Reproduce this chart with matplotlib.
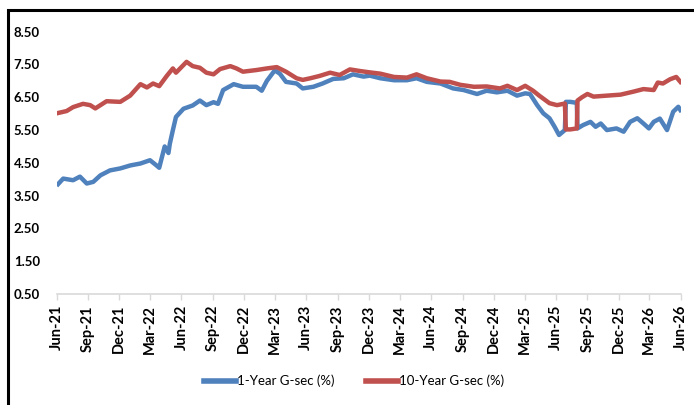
import matplotlib
matplotlib.use("Agg")
import matplotlib.pyplot as plt
from matplotlib.patches import Rectangle
import pandas as pd

# ---- data ----
dates_1y = ["2021-06-05", "2021-06-20", "2021-07-19", "2021-08-08", "2021-08-28", "2021-09-16",
            "2021-10-07", "2021-11-04", "2021-12-04", "2022-01-02", "2022-02-01", "2022-03-01",
            "2022-03-19", "2022-03-28", "2022-04-13", "2022-04-24", "2022-04-28", "2022-05-07",
            "2022-05-16", "2022-06-07", "2022-07-04", "2022-07-25", "2022-08-13", "2022-09-03",
            "2022-09-16", "2022-10-01", "2022-11-01", "2022-11-28", "2023-01-06", "2023-01-22",
            "2023-02-06", "2023-03-01", "2023-03-16", "2023-04-03", "2023-05-04", "2023-05-22",
            "2023-06-22", "2023-07-19", "2023-08-19", "2023-09-19", "2023-10-16", "2023-11-16",
            "2023-12-04", "2024-01-04", "2024-02-13", "2024-03-22", "2024-04-19", "2024-05-19",
            "2024-06-28", "2024-08-04", "2024-09-04", "2024-10-13", "2024-11-10", "2024-12-10",
            "2025-01-10", "2025-02-07", "2025-03-03", "2025-03-17", "2025-04-07", "2025-04-25",
            "2025-05-13", "2025-05-28", "2025-06-10", "2025-06-27", "2025-06-30", "2025-07-13",
            "2025-08-01", "2025-08-03", "2025-08-19", "2025-09-10", "2025-09-25", "2025-10-10",
            "2025-10-28", "2025-11-25", "2025-12-16", "2026-01-04", "2026-01-25", "2026-02-12",
            "2026-02-28", "2026-03-14", "2026-04-01", "2026-04-22", "2026-05-10", "2026-05-25",
            "2026-05-31"]
yield_1y = [3.85, 4.02, 3.97, 4.08, 3.87, 3.92,
            4.12, 4.27, 4.33, 4.42, 4.48, 4.58,
            4.43, 4.35, 5.00, 4.80, 5.08, 5.50,
            5.90, 6.15, 6.25, 6.40, 6.26, 6.35,
            6.30, 6.72, 6.90, 6.82, 6.82, 6.70,
            7.00, 7.32, 7.22, 6.97, 6.92, 6.77,
            6.82, 6.92, 7.06, 7.08, 7.20, 7.13,
            7.16, 7.08, 7.02, 7.02, 7.08, 6.97,
            6.92, 6.77, 6.72, 6.60, 6.70, 6.65,
            6.70, 6.55, 6.62, 6.60, 6.26, 6.01,
            5.86, 5.60, 5.35, 5.50, 6.36, 6.36,
            6.33, 5.55, 5.65, 5.75, 5.60, 5.70,
            5.50, 5.55, 5.45, 5.75, 5.86, 5.70,
            5.55, 5.75, 5.85, 5.50, 6.06, 6.21,
            6.11]

dates_10y = ["2021-06-05", "2021-06-30", "2021-07-19", "2021-08-17", "2021-09-07", "2021-09-22",
             "2021-10-25", "2021-12-04", "2022-01-02", "2022-02-01", "2022-02-20", "2022-03-10",
             "2022-03-28", "2022-04-19", "2022-05-07", "2022-05-16", "2022-06-16", "2022-07-04",
             "2022-07-25", "2022-08-13", "2022-09-03", "2022-09-22", "2022-10-22", "2022-11-09",
             "2022-11-28", "2023-01-06", "2023-02-06", "2023-03-07", "2023-04-03", "2023-05-04",
             "2023-05-22", "2023-06-13", "2023-07-10", "2023-08-10", "2023-09-07", "2023-10-07",
             "2023-11-06", "2023-12-04", "2024-01-04", "2024-02-13", "2024-03-22", "2024-04-19",
             "2024-05-19", "2024-06-28", "2024-07-25", "2024-08-25", "2024-10-04", "2024-11-10",
             "2024-12-19", "2025-01-10", "2025-02-07", "2025-03-03", "2025-03-26", "2025-04-13",
             "2025-05-13", "2025-06-04", "2025-06-27", "2025-06-30", "2025-07-13", "2025-08-01",
             "2025-08-03", "2025-08-16", "2025-09-01", "2025-09-19", "2025-10-28", "2025-12-07",
             "2026-01-13", "2026-02-12", "2026-03-14", "2026-03-26", "2026-04-10", "2026-05-01",
             "2026-05-19", "2026-05-31"]
yield_10y = [6.02, 6.08, 6.20, 6.30, 6.26, 6.16,
             6.38, 6.36, 6.55, 6.90, 6.80, 6.92,
             6.84, 7.15, 7.38, 7.25, 7.58, 7.45,
             7.40, 7.25, 7.20, 7.36, 7.45, 7.38,
             7.28, 7.33, 7.38, 7.42, 7.28, 7.08,
             7.03, 7.08, 7.15, 7.25, 7.18, 7.35,
             7.30, 7.26, 7.22, 7.12, 7.10, 7.20,
             7.08, 6.98, 6.97, 6.88, 6.82, 6.83,
             6.77, 6.85, 6.72, 6.85, 6.70, 6.55,
             6.32, 6.26, 6.31, 5.52, 5.52, 5.55,
             6.40, 6.50, 6.60, 6.52, 6.55, 6.58,
             6.67, 6.75, 6.72, 6.95, 6.92, 7.05,
             7.12, 6.97]

series_names = ["1-Year G-sec (%)", "10-Year G-sec (%)"]
y_ticks = [0.50, 1.50, 2.50, 3.50, 4.50, 5.50, 6.50, 7.50, 8.50]
x_tick_dates = ["2021-06-01", "2021-09-01", "2021-12-01", "2022-03-01", "2022-06-01", "2022-09-01",
                "2022-12-01", "2023-03-01", "2023-06-01", "2023-09-01", "2023-12-01", "2024-03-01",
                "2024-06-01", "2024-09-01", "2024-12-01", "2025-03-01", "2025-06-01", "2025-09-01",
                "2025-12-01", "2026-03-01", "2026-06-01"]
x_tick_labels = ["Jun-21", "Sep-21", "Dec-21", "Mar-22", "Jun-22", "Sep-22", "Dec-22", "Mar-23",
                 "Jun-23", "Sep-23", "Dec-23", "Mar-24", "Jun-24", "Sep-24", "Dec-24", "Mar-25",
                 "Jun-25", "Sep-25", "Dec-25", "Mar-26", "Jun-26"]

BLUE = "#4F81BD"
RED = "#C0504D"

plt.rcParams["font.family"] = ["Lato", "DejaVu Sans"]

W, H = 694, 405
fig = plt.figure(figsize=(W / 100, H / 100), dpi=100)
ax = fig.add_axes([56.7 / W, 1 - 294 / H, (680.7 - 56.7) / W, (294 - 31.7) / H])

ax.plot(pd.to_datetime(dates_1y), yield_1y, color=BLUE, lw=3.2, label=series_names[0],
        solid_joinstyle="round")
ax.plot(pd.to_datetime(dates_10y), yield_10y, color=RED, lw=3.2, label=series_names[1],
        solid_joinstyle="round")

ax.set_ylim(0.5, 8.5)
ax.set_yticks(y_ticks)
ax.set_yticklabels([f"{v:.2f}" for v in y_ticks], fontsize=9.5, fontweight="bold")
xt = pd.to_datetime(x_tick_dates)
ax.set_xlim(xt[0], xt[-1])
ax.set_xticks(xt)
ax.set_xticklabels(x_tick_labels, rotation=90, fontsize=10.5, fontweight="bold")

for s in ["top", "right", "left"]:
    ax.spines[s].set_visible(False)
ax.spines["bottom"].set_color("#D9D9D9")
ax.spines["bottom"].set_linewidth(1.2)
ax.tick_params(axis="y", length=0, pad=12)
ax.tick_params(axis="x", length=4, color="#D9D9D9", width=1.0, pad=4)

leg = fig.legend(loc="center", bbox_to_anchor=(354 / W, 1 - 381 / H), ncol=2, frameon=False,
                 fontsize=9.5, handlelength=2.4, columnspacing=2.4, handletextpad=0.1)
for line in leg.get_lines():
    line.set_linewidth(4)

fig.add_artist(Rectangle((8 / W, -0.5), 2.0, 0.5 + (1 - 10 / H), transform=fig.transFigure,
                         fill=False, edgecolor="black", lw=2.2))

fig.savefig("out.png", dpi=100)
